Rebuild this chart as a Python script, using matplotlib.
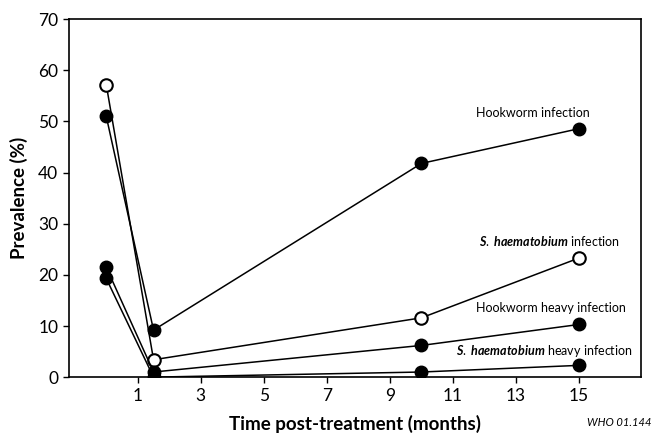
import matplotlib
matplotlib.use("Agg")
import matplotlib.pyplot as plt

months = [0, 1.5, 10, 15]
hookworm = [51.0, 9.2, 41.8, 48.6]
haem = [57.2, 3.4, 11.6, 23.3]
hookworm_heavy = [21.5, 1.0, 6.2, 10.3]
haem_heavy = [19.3, 0.0, 1.0, 2.3]

xticks = [1, 3, 5, 7, 9, 11, 13, 15]
yticks = [0, 10, 20, 30, 40, 50, 60, 70]

plt.rcParams['font.family'] = ['Lato', 'DejaVu Sans']
plt.rcParams['mathtext.fontset'] = 'custom'
plt.rcParams['mathtext.rm'] = 'Lato'
plt.rcParams['mathtext.it'] = 'Lato:italic:bold'

fig = plt.figure(figsize=(6.61, 4.37), dpi=100)
ax = fig.add_axes([0.104, 0.137, 0.866, 0.819])

kw = dict(color="black", lw=1.1, ms=9, zorder=3)
ax.plot(months, hookworm, "o-", mfc="black", **kw)
ax.plot(months, haem, "o-", mfc="white", mew=1.5, **kw)
ax.plot(months, hookworm_heavy, "o-", mfc="black", **kw)
ax.plot(months, haem_heavy, "o-", mfc="black", **kw)

ax.set_xlim(-1.19, 16.97)
ax.set_ylim(0, 70)
ax.set_xticks(xticks)
ax.set_yticks(yticks)
ax.tick_params(labelsize=12.5, length=4, width=1)
for s in ax.spines.values():
    s.set_linewidth(1.2)

ax.set_ylabel("Prevalence (%)", fontsize=13.5, fontweight="bold", labelpad=7)
ax.set_xlabel("Time post-treatment (months)", fontsize=13.5, fontweight="bold", labelpad=8)

ax.text(13.55, 51.6, "Hookworm infection", fontsize=9, ha="center", va="center")
ax.text(14.05, 26.6, "$S.$ $haematobium$ infection", fontsize=9, ha="center", va="center")
ax.text(14.1, 13.6, "Hookworm heavy infection", fontsize=9, ha="center", va="center")
ax.text(13.9, 5.2, "$S.$ $haematobium$ heavy infection", fontsize=9, ha="center", va="center")

fig.text(0.985, 0.02, "WHO 01.144", fontsize=8, style="italic", ha="right", va="bottom")

fig.savefig("out.png", dpi=100)
